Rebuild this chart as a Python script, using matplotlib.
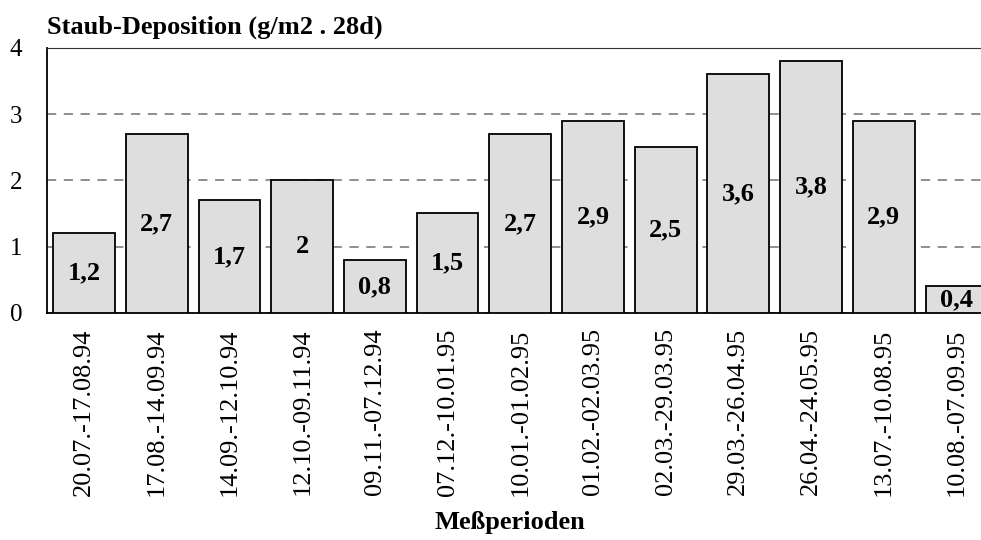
import matplotlib.pyplot as plt

plt.rcParams['font.family'] = ['Liberation Serif', 'DejaVu Serif']

perioden = ['20.07.-17.08.94', '17.08.-14.09.94', '14.09.-12.10.94', '12.10.-09.11.94',
            '09.11.-07.12.94', '07.12.-10.01.95', '10.01.-01.02.95', '01.02.-02.03.95',
            '02.03.-29.03.95', '29.03.-26.04.95', '26.04.-24.05.95', '13.07.-10.08.95',
            '10.08.-07.09.95']
deposition = [1.2, 2.7, 1.7, 2.0, 0.8, 1.5, 2.7, 2.9, 2.5, 3.6, 3.8, 2.9, 0.4]

fig = plt.figure(figsize=(9.81, 5.4), dpi=100)
ax = fig.add_axes([0.048, 0.4204, 0.964, 0.4913])

x = range(len(deposition))
ax.bar(x, deposition, width=0.85, color='#dedede', edgecolor='black', linewidth=1.3, zorder=3)

# Werte mittig in die Saeulen schreiben
for xi, v in zip(x, deposition):
    txt = ('%g' % v).replace('.', ',')
    ax.text(xi, v / 2, txt, ha='center', va='center', fontsize=19, fontweight='bold', zorder=4)

ax.set_ylim(0, 4)
ax.set_xlim(-0.51, 12.5)
ax.set_yticks([0, 1, 2, 3, 4])
ax.yaxis.grid(True, linestyle=(0, (6, 5)), color='#707070', linewidth=1.1, zorder=0)
ax.tick_params(axis='y', length=0, pad=18, labelsize=18)
ax.tick_params(axis='x', length=0, pad=11, labelsize=19)
ax.set_xticks(list(x))
ax.set_xticklabels(perioden, rotation=90)

ax.spines['right'].set_visible(False)
ax.spines['top'].set_color('#333333')
ax.spines['left'].set_linewidth(1.3)
ax.spines['bottom'].set_linewidth(1.3)

fig.text(0.52, 0.033, 'Meßperioden', fontsize=19, fontweight='bold', ha='center', va='center')
fig.text(0.048, 0.928, 'Staub-Deposition (g/m2 . 28d)', fontsize=19, fontweight='bold',
         ha='left', va='bottom')

fig.savefig('out.png', dpi=100)
